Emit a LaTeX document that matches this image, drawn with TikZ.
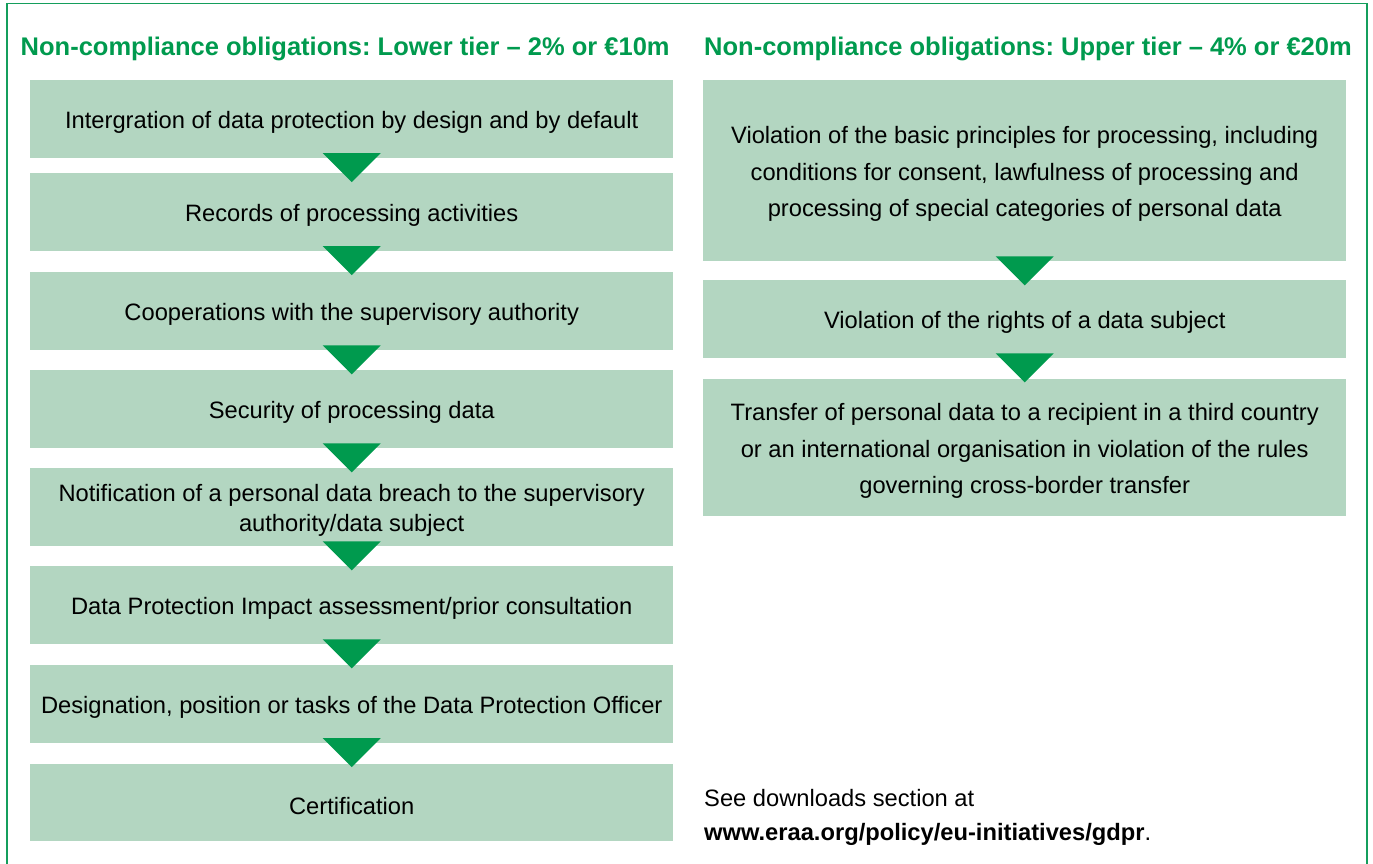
\documentclass[tikz,border=0pt]{standalone}
\usepackage{fontspec}
\setmainfont{Liberation Sans}
\usetikzlibrary{calc}

\definecolor{gdprgreen}{RGB}{0,154,78}
\definecolor{boxfill}{RGB}{179,214,193}
\definecolor{framegreen}{RGB}{20,158,92}

\begin{document}
\frenchspacing
\begin{tikzpicture}[x=1pt,y=-1pt,
  stepbox/.style={fill=boxfill, draw=none, inner sep=0pt, anchor=north west,
    minimum width=643pt},
  steptext/.style={inner sep=0pt, align=center, yshift=-3.5pt,
    font=\fontsize{23.7}{30}\selectfont},
  widetext/.style={steptext, font=\fontsize{23.7}{36.5}\selectfont},
  tiertitle/.style={anchor=base west, inner sep=0pt, text=gdprgreen,
    font=\fontsize{25.5}{30}\selectfont\bfseries},
  note/.style={anchor=base west, inner sep=0pt, font=\fontsize{23.7}{30}\selectfont},
  flowtri/.style={fill=gdprgreen, draw=none}
]
\useasboundingbox (0,0) rectangle (1373,863);

% outer frame (open at the bottom edge of the page)
\draw[framegreen, line width=1.6pt] (7,866) -- (7,3.5) -- (1367,3.5) -- (1367,866);

% column headings
\node[tiertitle] (tlow) at (20.5,55) {Non-compliance obligations: Lower tier -- 2\% or €10m};
\node[tiertitle] (tup)  at (704,55) {Non-compliance obligations: Upper tier -- 4\% or €20m};

% lower tier boxes
\node[stepbox, minimum height=77.7pt] (l1) at (30,80)    {};
\node[stepbox, minimum height=78pt]   (l2) at (30,172.7) {};
\node[stepbox, minimum height=78pt]   (l3) at (30,272)   {};
\node[stepbox, minimum height=78pt]   (l4) at (30,370)   {};
\node[stepbox, minimum height=78pt]   (l5) at (30,468)   {};
\node[stepbox, minimum height=78pt]   (l6) at (30,566)   {};
\node[stepbox, minimum height=78pt]   (l7) at (30,664.7) {};
\node[stepbox, minimum height=77.5pt] (l8) at (30,763.3) {};

% upper tier boxes
\node[stepbox, minimum height=181pt] (u1) at (703,80)  {};
\node[stepbox, minimum height=78pt]  (u2) at (703,280) {};
\node[stepbox, minimum height=137pt] (u3) at (703,379) {};

% box labels
\node[steptext] (l1t) at (l1.center) {Intergration of data protection by design and by default};
\node[steptext] (l2t) at (l2.center) {Records of processing activities};
\node[steptext] (l3t) at (l3.center) {Cooperations with the supervisory authority};
\node[steptext] (l4t) at (l4.center) {Security of processing data};
\node[steptext] (l5t) at (l5.center) {Notification of a personal data breach to the supervisory\\authority/data subject};
\node[steptext] (l6t) at (l6.center) {Data Protection Impact assessment/prior consultation};
\node[steptext] (l7t) at (l7.center) {Designation, position or tasks of the Data Protection Officer};
\node[steptext] (l8t) at (l8.center) {Certification};

\node[widetext] (u1t) at (u1.center) {Violation of the basic principles for processing, including\\conditions for consent, lawfulness of processing and\\processing of special categories of personal data};
\node[widetext] (u2t) at (u2.center) {Violation of the rights of a data subject};
\node[widetext] (u3t) at (u3.center) {Transfer of personal data to a recipient in a third country\\or an international organisation in violation of the rules\\governing cross-border transfer};

% downward triangles linking consecutive steps
\foreach \a/\b in {l1/l2,l2/l3,l3/l4,l4/l5,l5/l6,l6/l7,l7/l8,u1/u2,u2/u3}{
  \fill[flowtri] ($(\a.south)+(-29,-5)$) -- ($(\a.south)+(29,-5)$)
     -- ($(\a.south)!24pt!(\b.north)$) -- cycle;
}

% reference to downloads
\node[note] (see) at (704,806) {See downloads section at};
\node[note] (url) at (704,840) {\textbf{www.eraa.org/policy/eu-initiatives/gdpr}.};
\end{tikzpicture}
\end{document}
